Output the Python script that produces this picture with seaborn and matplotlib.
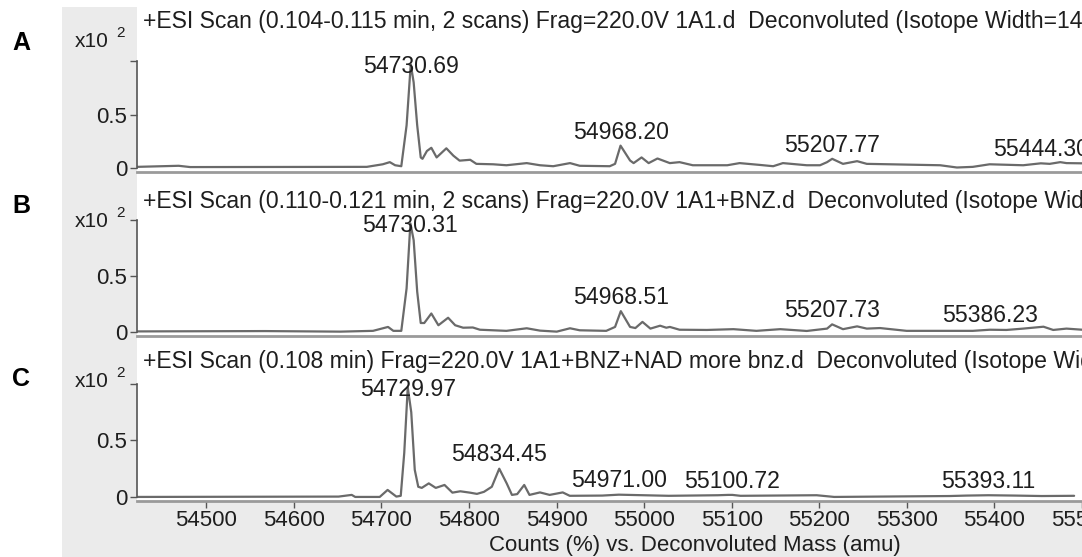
import numpy as np
import pandas as pd
import matplotlib
matplotlib.use("Agg")
import matplotlib.pyplot as plt
from matplotlib.patches import Rectangle
import seaborn as sns

# ---------------- data ----------------
panel_letters = ["A", "B", "C"]
titles = [
    "+ESI Scan (0.104-0.115 min, 2 scans) Frag=220.0V 1A1.d  Deconvoluted (Isotope Width=14.0)",
    "+ESI Scan (0.110-0.121 min, 2 scans) Frag=220.0V 1A1+BNZ.d  Deconvoluted (Isotope Width=14.0)",
    "+ESI Scan (0.108 min) Frag=220.0V 1A1+BNZ+NAD more bnz.d  Deconvoluted (Isotope Width=14.0)",
]

mass_a = [54421, 54468, 54481, 54681, 54699, 54707, 54713, 54720, 54726, 54730.7, 54734, 54738,
          54742, 54744, 54749, 54754, 54760, 54771, 54779, 54786, 54798, 54805, 54824, 54839,
          54862, 54877, 54892, 54911, 54922, 54956, 54962, 54968.2, 54979, 54983, 54992, 55000,
          55010, 55024, 55035, 55050, 55089, 55103, 55126, 55141, 55152, 55179, 55194, 55202,
          55207.8, 55220, 55236, 55247, 55273, 55330, 55349, 55367, 55386, 55424, 55444, 55454,
          55466, 55473, 55491]
int_a = [0.012, 0.022, 0.010, 0.012, 0.036, 0.056, 0.027, 0.018, 0.40, 0.97, 0.80, 0.40,
         0.10, 0.087, 0.16, 0.19, 0.10, 0.185, 0.116, 0.07, 0.078, 0.04, 0.036, 0.027,
         0.047, 0.027, 0.018, 0.047, 0.022, 0.018, 0.04, 0.21, 0.071, 0.047, 0.10, 0.047,
         0.09, 0.047, 0.056, 0.027, 0.027, 0.047, 0.030, 0.018, 0.047, 0.027, 0.027, 0.056,
         0.087, 0.040, 0.065, 0.040, 0.036, 0.027, 0.006, 0.012, 0.036, 0.027, 0.045, 0.040,
         0.056, 0.047, 0.045]

mass_b = [54421, 54566, 54651, 54688, 54705, 54711, 54720, 54726, 54730.3, 54734, 54738, 54742,
          54746, 54754, 54762, 54773, 54781, 54790, 54801, 54809, 54839, 54862, 54877, 54896,
          54911, 54922, 54952, 54962, 54968.5, 54979, 54985, 54993, 55002, 55013, 55020, 55024,
          55035, 55066, 55096, 55122, 55149, 55179, 55202, 55207.7, 55220, 55236, 55247, 55262,
          55292, 55367, 55386.2, 55405, 55424, 55447, 55458, 55473, 55491]
int_b = [0.005, 0.008, 0.003, 0.010, 0.045, 0.010, 0.010, 0.39, 0.97, 0.82, 0.36, 0.08,
         0.08, 0.165, 0.06, 0.127, 0.06, 0.038, 0.04, 0.02, 0.010, 0.033, 0.012, 0.003,
         0.033, 0.015, 0.010, 0.045, 0.186, 0.045, 0.035, 0.09, 0.03, 0.056, 0.038, 0.045,
         0.02, 0.018, 0.025, 0.010, 0.025, 0.009, 0.03, 0.068, 0.025, 0.05, 0.03, 0.035,
         0.010, 0.010, 0.020, 0.018, 0.03, 0.047, 0.018, 0.03, 0.02]

mass_c = [54421, 54651, 54666, 54670, 54698, 54707, 54717, 54722, 54726, 54730.0, 54734, 54738,
          54742, 54746, 54754, 54762, 54772, 54781, 54790, 54801, 54809, 54817, 54826, 54834.5,
          54843, 54849, 54855, 54863, 54869, 54881, 54892, 54907, 54915, 54952, 54971.0, 55028,
          55084, 55096, 55100.7, 55110, 55197, 55217, 55349, 55368, 55393.1, 55424, 55454, 55491]
int_c = [0.0, 0.003, 0.018, 0.0, 0.0, 0.062, 0.003, 0.01, 0.39, 0.97, 0.75, 0.24,
         0.09, 0.08, 0.12, 0.08, 0.106, 0.038, 0.05, 0.038, 0.027, 0.045, 0.09, 0.25,
         0.12, 0.018, 0.025, 0.106, 0.018, 0.04, 0.018, 0.04, 0.01, 0.012, 0.02, 0.01,
         0.015, 0.018, 0.018, 0.01, 0.015, 0.0, 0.008, 0.012, 0.015, 0.012, 0.008, 0.01]

labels_a = [54730.69, 54968.20, 55207.77, 55444.30]
labels_b = [54730.31, 54968.51, 55207.73, 55386.23]
labels_c = [54729.97, 54834.45, 54971.00, 55100.72, 55393.11]

x_ticks = [54500, 54600, 54700, 54800, 54900, 55000, 55100, 55200, 55300, 55400, 55500]
y_ticks = [0, 0.5, 1.0]
y_tick_labels = ["0", "0.5", ""]
x_label = "Counts (%) vs. Deconvoluted Mass (amu)"

# ---------------- style ----------------
sns.set_style("white")
plt.rcParams["font.family"] = ["Liberation Sans", "DejaVu Sans"]

W, H = 1082, 557
fig = plt.figure(figsize=(W / 100, H / 100), dpi=100)
fig.patch.set_facecolor("white")

def fx(x):
    return x / W

def fy(y):
    return 1 - y / H

# grey frame & white plot region
fig.patches.append(Rectangle((fx(62), 0), 1 - fx(62), fy(7), transform=fig.transFigure,
                             facecolor="#ebebeb", edgecolor="none", zorder=-10))
fig.patches.append(Rectangle((fx(137), fy(502)), 1 - fx(137), fy(7) - fy(502),
                             transform=fig.transFigure, facecolor="white", edgecolor="none",
                             zorder=-9))

masses = [mass_a, mass_b, mass_c]
ints = [int_a, int_b, int_c]
labels = [labels_a, labels_b, labels_c]
boxes = [(61, 172), (220, 336), (384, 501)]       # top, bottom pixel rows of plot areas
title_base = [28, 208, 368]
letter_base = [50, 213, 386]
xlim = (54420.8, 55490.6)
TXT = "#1e1e1e"
LINE = "#6a6a6a"
FS = 16.6
TFS = 16.0

for i in range(3):
    top, bot = boxes[i]
    ax = fig.add_axes([fx(137), fy(bot), 1 - fx(137), fy(top) - fy(bot)])
    ax.set_facecolor("white")
    df = pd.DataFrame({"mass": masses[i], "counts": ints[i]})
    sns.lineplot(data=df, x="mass", y="counts", ax=ax, color=LINE, linewidth=1.6,
                 estimator=None, sort=True)
    ax.set_xlim(*xlim)
    ax.set_ylim(-0.036, 1.0)
    ax.set_xlabel("")
    ax.set_ylabel("")
    ax.set_yticks(y_ticks)
    ax.set_yticklabels(y_tick_labels)
    ax.tick_params(axis="y", direction="out", length=5, width=1, color="#555555",
                   labelsize=TFS, labelcolor=TXT, pad=2, left=True)
    for s in ["top", "right"]:
        ax.spines[s].set_visible(False)
    ax.spines["left"].set_color("#555555")
    ax.spines["left"].set_linewidth(1.2)
    ax.spines["left"].set_bounds(0, 1.0)
    ax.spines["bottom"].set_color("#9a9a9a")
    ax.spines["bottom"].set_linewidth(2.0)
    if i < 2:
        ax.set_xticks([])
    else:
        ax.set_xticks(x_ticks)
        ax.set_xticklabels([str(t) for t in x_ticks])
        ax.tick_params(axis="x", direction="out", length=5, width=1, color="#555555",
                       labelsize=TFS, labelcolor=TXT, pad=1.5, bottom=True)
    # peak labels
    for m in labels[i]:
        h = float(np.interp(m, masses[i], ints[i]))
        ly = min(h + 0.065, 0.89)
        ax.text(m, ly, f"{m:.2f}", ha="center", va="baseline", fontsize=FS, color=TXT,
                clip_on=False)
    # title
    fig.text(fx(143), fy(title_base[i]), titles[i], ha="left", va="baseline",
             fontsize=FS, color=TXT)
    # x10^2
    fig.text(fx(109), fy(title_base[i] + 19), "x10", ha="right", va="baseline",
             fontsize=TFS - 1, color=TXT)
    fig.text(fx(116), fy(title_base[i] + 9), "2", ha="left", va="baseline",
             fontsize=TFS - 5, color=TXT)
    # panel letter
    fig.text(fx(12), fy(letter_base[i]), panel_letters[i], ha="left", va="baseline",
             fontsize=18, fontweight="bold", color="black")

fig.text(fx(695), fy(551), x_label, ha="center", va="baseline", fontsize=TFS, color=TXT)

fig.savefig("out.png", dpi=100)
